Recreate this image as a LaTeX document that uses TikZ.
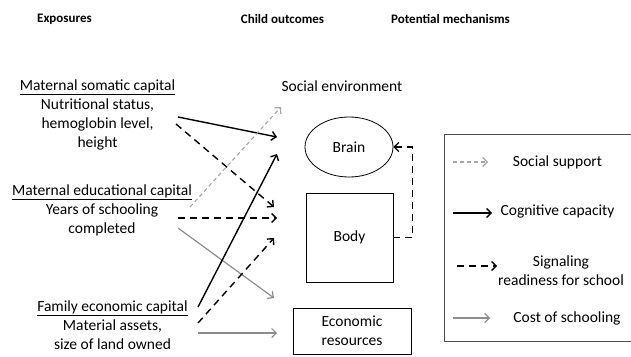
\documentclass[tikz,border=0pt]{standalone}
\usepackage{fontspec}
\setmainfont{Carlito}
\usetikzlibrary{calc,arrows.meta,shapes.geometric}

\begin{document}
\begin{tikzpicture}[x=1pt,y=-1pt,
		font=\fontsize{15.5}{19}\selectfont,
		tip/.style={-{Straight Barb[length=4.5pt,width=9pt]}},
		cog/.style={tip,line width=1.4pt},
		sig/.style={tip,line width=1.4pt,dash pattern=on 7pt off 5pt},
		soc/.style={tip,line width=1.1pt,black!35,dash pattern=on 4pt off 3pt},
		cost/.style={tip,line width=1.2pt,black!45},
		head/.style={font=\fontsize{13}{16}\selectfont\bfseries}]
		\useasboundingbox (0,0) rectangle (631,356);
		% column heads
		\node [head] (h1) at (64.5,19) {Exposures};
		\node [head] (h2) at (282.5,19) {Child outcomes};
		\node [head] (h3) at (450.5,19) {Potential mechanisms};
		% exposures
		\node [align=center] (1) at (97.5,114.5) {\underline{Maternal somatic capital}\\Nutritional status,\\hemoglobin level,\\height};
		\node [align=center] (2) at (102,210) {\underline{Maternal educational capital}\\Years of schooling\\completed};
		\node [align=center] (3) at (112.5,325) {\underline{Family economic capital}\\Material assets,\\size of land owned};
		% outcomes
		\node (4) at (342,86) {Social environment};
		\node [draw,thick,ellipse,minimum width=88pt,minimum height=60pt] (5) at (349,147) {Brain};
		\node [draw,thick,minimum width=87pt,minimum height=89pt] (6) at (349.5,237.5) {Body};
		\node [draw,thick,align=center,minimum width=118pt,minimum height=46pt] (7) at (352,331) {Economic\\resources};
		\draw [sig,line width=1.3pt] (6.east) -- ++(19,0) |- (5.east);
		% arrow ends
		\coordinate (a1) at (178,117); \coordinate (b1) at (277,137);
		\coordinate (a2) at (176,124); \coordinate (b2) at (274,207);
		\coordinate (a3) at (190,207); \coordinate (b3) at (281,107);
		\coordinate (a4) at (178,218); \coordinate (b4) at (277,218);
		\coordinate (a5) at (178,228); \coordinate (b5) at (274,298);
		\coordinate (a6) at (198,307); \coordinate (b6) at (277,154);
		\coordinate (a7) at (198,323); \coordinate (b7) at (274,238);
		\coordinate (a8) at (198,333); \coordinate (b8) at (277,333);
		\draw [cog] (a1) -- (b1);
		\draw [sig] (a2) -- (b2);
		\draw [soc] (a3) -- (b3);
		\draw [sig] (a4) -- (b4);
		\draw [cost] (a5) -- (b5);
		\draw [cog] (a6) -- (b6);
		\draw [sig] (a7) -- (b7);
		\draw [cost] (a8) -- (b8);
		% legend (open on the right, runs off the edge)
		\coordinate (8) at (631,134);
		\draw [black!70,line width=1pt] (8) -- (444,134) -- (444,341) -- (631,341);
		\node (9) at (557.5,162) {Social support};
		\node (10) at (557.5,211) {Cognitive capacity};
		\node [align=center] (11) at (561,271) {Signaling\\readiness for school};
		\node (12) at (567,318) {Cost of schooling};
		\coordinate (l1) at (453,162); \coordinate (m1) at (488,162);
		\coordinate (l2) at (453,213); \coordinate (m2) at (492,213);
		\coordinate (l3) at (457,266); \coordinate (m3) at (497,266);
		\coordinate (l4) at (453,318); \coordinate (m4) at (490,318);
		\draw [soc] (l1) -- (m1);
		\draw [cog] (l2) -- (m2);
		\draw [sig] (l3) -- (m3);
		\draw [cost] (l4) -- (m4);
		\end{tikzpicture}
\end{document}
